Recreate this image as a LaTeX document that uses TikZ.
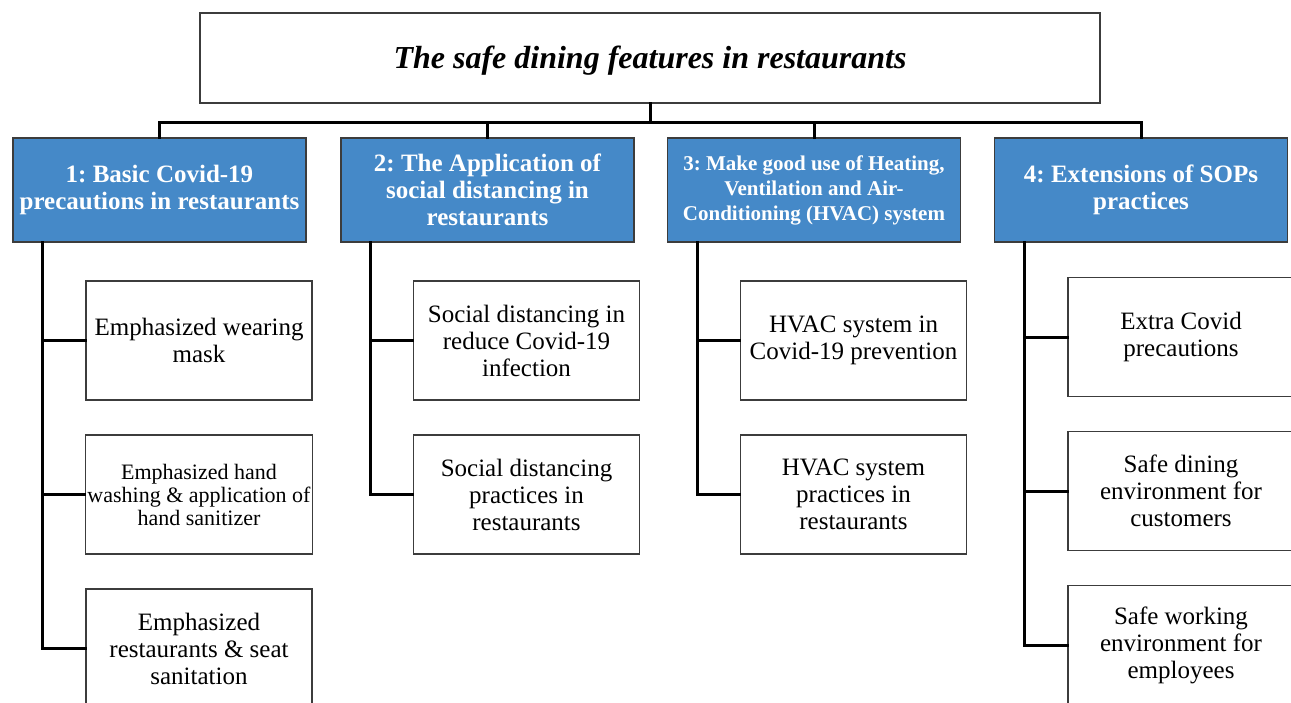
\documentclass[tikz,border=0pt]{standalone}
\usepackage{fontspec}
\setmainfont{Liberation Serif}
\frenchspacing
\definecolor{hdblue}{HTML}{4589C8}
\definecolor{edgegray}{HTML}{3C3C3C}
\begin{document}
\begin{tikzpicture}[x=1pt,y=-1pt,
  conn/.style={line width=3pt, black, line cap=rect},
  titlebox/.style={draw=edgegray, line width=1.3pt, fill=white, minimum width=900pt, minimum height=90pt, inner sep=2pt, font=\fontsize{32}{38}\selectfont\bfseries\itshape},
  headbox/.style={draw=edgegray, line width=1.3pt, fill=hdblue, text=white, minimum width=293pt, minimum height=104pt, align=center, inner sep=2pt, font=\fontsize{25}{27}\selectfont\bfseries},
  leafbox/.style={draw=edgegray, line width=1.3pt, fill=white, minimum width=226pt, minimum height=119pt, align=center, inner sep=2pt, font=\fontsize{25}{27}\selectfont},
]
\useasboundingbox (0,0) rectangle (1291,702);
\clip (0,0) rectangle (1291,702);

% title
\node[titlebox] (title) at (650,58) {};
\node[font=\fontsize{32}{38}\selectfont\bfseries\itshape, inner sep=0pt] (titletext) at (650,61) {The safe dining features in restaurants};
\coordinate (bar) at (650,122);

% headers
\node[headbox] (h1) at (159.5,190) {1: Basic Covid-19\\precautions in restaurants};
\node[headbox] (h2) at (487.5,190) {2: The Application of\\social distancing in\\restaurants};
\node[headbox, font=\fontsize{21}{25}\selectfont\bfseries] (h3) at (814,190) {3: Make good use of Heating,\\Ventilation and Air-\\Conditioning (HVAC) system};
\node[headbox] (h4) at (1141,190) {4: Extensions of SOPs\\practices};

% leaves column 1
\node[leafbox] (l11) at (199,340.5) {Emphasized wearing\\mask};
\node[leafbox, font=\fontsize{22}{23}\selectfont] (l12) at (199,494.5) {Emphasized hand\\washing \& application of\\hand sanitizer};
\node[leafbox] (l13) at (199,648.5) {Emphasized\\restaurants \& seat\\sanitation};
% column 2
\node[leafbox] (l21) at (526.5,340.5) {Social distancing in\\reduce Covid-19\\infection};
\node[leafbox] (l22) at (526.5,494.5) {Social distancing\\practices in\\restaurants};
% column 3
\node[leafbox] (l31) at (853.5,340.5) {HVAC system in\\Covid-19 prevention};
\node[leafbox] (l32) at (853.5,494.5) {HVAC system\\practices in\\restaurants};
% column 4
\node[leafbox] (l41) at (1181,337) {Extra Covid\\precautions};
\node[leafbox] (l42) at (1181,491) {Safe dining\\environment for\\customers};
\node[leafbox] (l43) at (1181,645) {Safe working\\environment for\\employees};

% top connectors
\draw[conn] (title.south) -- (title.south |- bar);
\draw[conn] (h1.north) |- (bar);
\draw[conn] (h4.north) |- (bar);
\draw[conn] (h2.north) -- (h2.north |- bar);
\draw[conn] (h3.north) -- (h3.north |- bar);

% trunks
\coordinate (t1) at ([xshift=30pt]h1.south west);
\coordinate (t2) at ([xshift=30pt]h2.south west);
\coordinate (t3) at ([xshift=31pt]h3.south west);
\coordinate (t4) at ([xshift=31pt]h4.south west);

\draw[conn] (t1) |- (l13.west);
\draw[conn] (l11.west) -- (l11.west -| t1);
\draw[conn] (l12.west) -- (l12.west -| t1);

\draw[conn] (t2) |- (l22.west);
\draw[conn] (l21.west) -- (l21.west -| t2);

\draw[conn] (t3) |- (l32.west);
\draw[conn] (l31.west) -- (l31.west -| t3);

\draw[conn] (t4) |- (l43.west);
\draw[conn] (l41.west) -- (l41.west -| t4);
\draw[conn] (l42.west) -- (l42.west -| t4);
\end{tikzpicture}
\end{document}
